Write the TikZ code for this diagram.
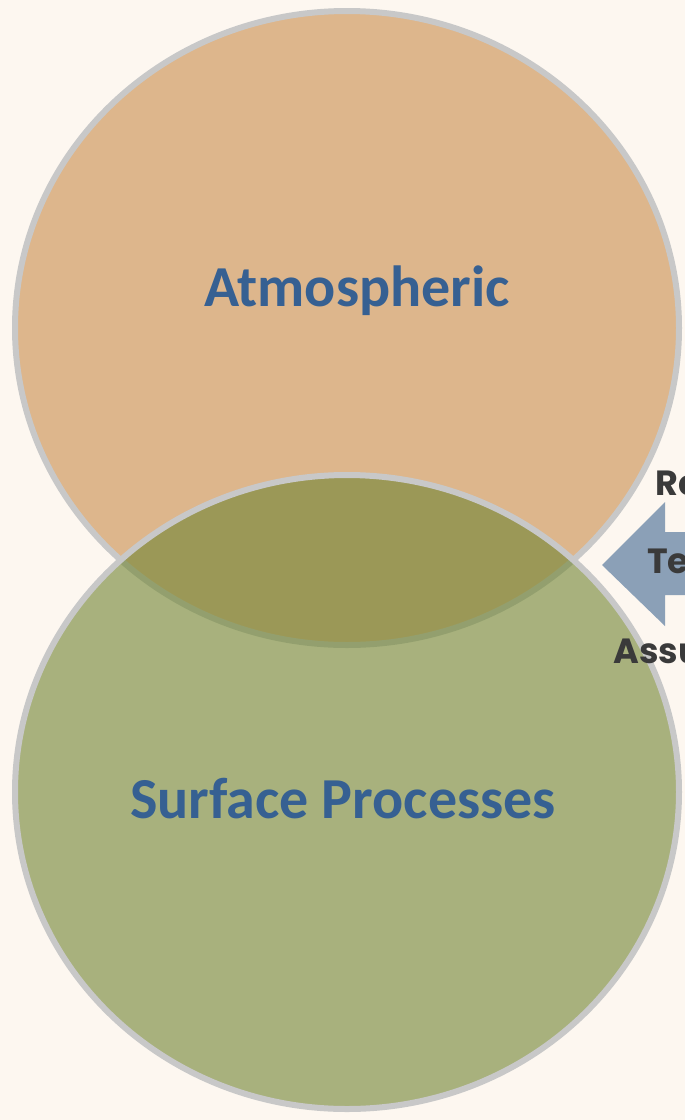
\documentclass[tikz,border=0pt]{standalone}
\usepackage{fontspec}
\setmainfont{Carlito}
\newfontfamily\sidefont{Poppins}
\usetikzlibrary{shapes,positioning}
\definecolor{paper}{RGB}{253,247,240}
\definecolor{rimgray}{RGB}{200,200,200}
\definecolor{sand}{RGB}{221,182,140}
\definecolor{moss}{RGB}{116,135,55}
\definecolor{titleblue}{RGB}{54,96,146}
\definecolor{steel}{RGB}{139,160,183}
\definecolor{ink}{RGB}{58,58,58}
\begin{document}
\begin{tikzpicture}[x=1pt,y=-1pt,
  every ellipse node/.append style={draw=rimgray,line width=6pt,minimum width=664pt,minimum height=634pt}]
  \tikzstyle{title} = [font=\fontsize{58}{60}\selectfont\bfseries,color=titleblue,anchor=base,inner sep=0pt]
  \tikzstyle{side} = [font=\sidefont\fontsize{35}{38}\selectfont\bfseries,color=ink,anchor=base west,inner sep=0pt]
  \useasboundingbox (0,0) rectangle (685,1120);
  \clip (0,0) rectangle (685,1120);
  \fill[paper] (0,0) rectangle (685,1120);
  % the two sets
  \node (atmo) [ellipse,fill=sand] at (347,328) {};
  \node (surf) [ellipse,fill=moss,fill opacity=0.62] at (347,792) {};
  \node (atmolabel) [title] at (357,306) {Atmospheric};
  \node (surflabel) [title] at (343,818) {Surface Processes};
  % arrow coming in from the right
  \coordinate (tip) at (602,565);
  \fill[steel] (tip) -- (665,502) -- (665,532) -- (700,532) -- (700,595)
    -- (665,595) -- (665,626) -- cycle;
  \node (re) [side] at (655,495) {Re};
  \node (te) [side] at (647,573) {Te};
  \node (assu) [side] at (613,663) {Assu};
\end{tikzpicture}
\end{document}
